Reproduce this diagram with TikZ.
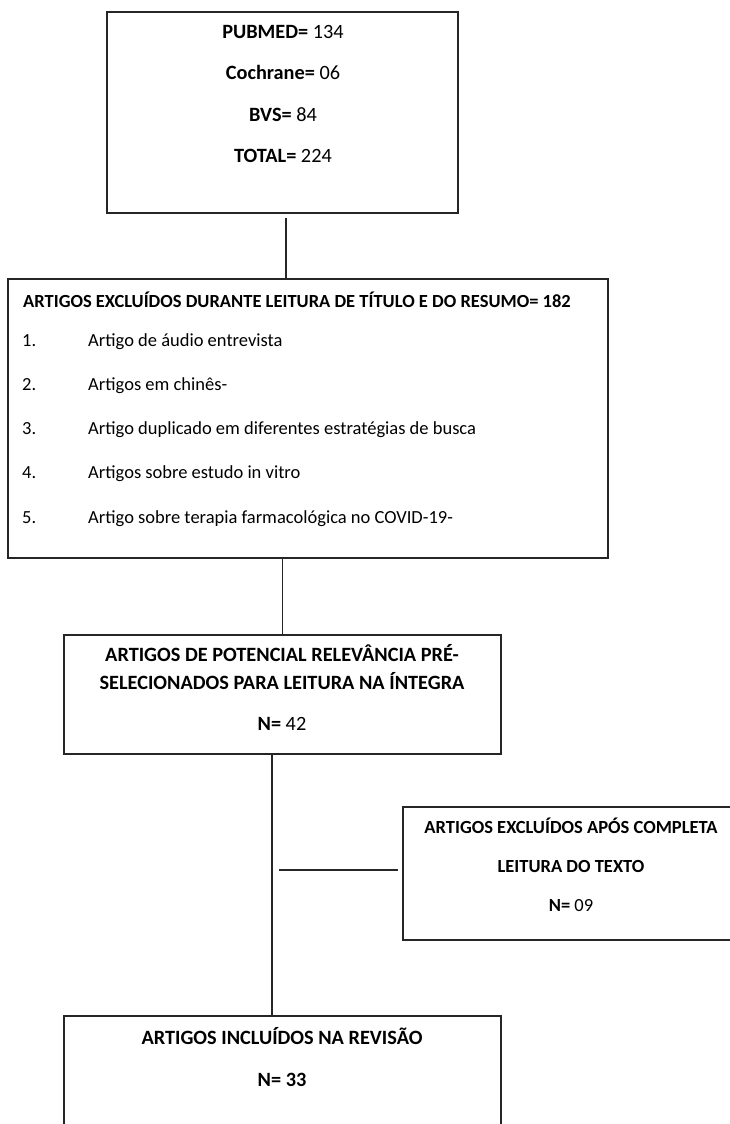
\documentclass[tikz,border=0pt]{standalone}
\usepackage{fontspec}
\setmainfont{Carlito}
\begin{document}
\begin{tikzpicture}[x=1bp,y=-1bp,
  box/.style={draw=black!85,line width=1.3bp,rectangle,inner sep=0pt},
  conn/.style={draw=black!85,line width=1.3bp},
  big/.style={font=\fontsize{20.3bp}{24bp}\selectfont,inner sep=0pt,anchor=base},
  side/.style={font=\fontsize{18.5bp}{22bp}\selectfont,inner sep=0pt,anchor=base},
  mid/.style={font=\fontsize{18.5bp}{22bp}\selectfont,inner sep=0pt,anchor=base west}]
\useasboundingbox (0,0) rectangle (730,1124);
\clip (0,0) rectangle (730,1124);
% boxes
\node[box,minimum width=351bp,minimum height=201bp] (b1) at (282.5,112.5) {};
\node[box,minimum width=600bp,minimum height=279bp] (b2) at (308,418.5) {};
\node[box,minimum width=437bp,minimum height=119bp] (b3) at (282.5,694.5) {};
\node[box,minimum width=340bp,minimum height=133bp] (b5) at (573,873.5) {};
\node[box,minimum width=437bp,minimum height=134bp] (b4) at (282.5,1083) {};
% box 1 text
\node[big] (t1a) at (283,38.5) {\textbf{PUBMED=} 134};
\node[big] (t1b) at (283,79.5) {\textbf{Cochrane=} 06};
\node[big] (t1c) at (283,121.5) {\textbf{BVS=} 84};
\node[big] (t1d) at (283,162.5) {\textbf{TOTAL=} 224};
% box 2 text
\node[mid] (t2) at (23,307) {\textbf{ARTIGOS EXCLUÍDOS DURANTE LEITURA DE TÍTULO E DO RESUMO= 182}};
\node[mid] (n1) at (22,346) {1.};
\node[mid] (i1) at (88,346) {Artigo de áudio entrevista};
\node[mid] (n2) at (22,390) {2.};
\node[mid] (i2) at (88,390) {Artigos em chinês-};
\node[mid] (n3) at (22,434) {3.};
\node[mid] (i3) at (88,434) {Artigo duplicado em diferentes estratégias de busca};
\node[mid] (n4) at (22,478) {4.};
\node[mid] (i4) at (88,478) {Artigos sobre estudo in vitro};
\node[mid] (n5) at (22,523) {5.};
\node[mid] (i5) at (88,523) {Artigo sobre terapia farmacológica no COVID-19-};
% box 3 text
\node[big] (t3a) at (282,661) {\textbf{ARTIGOS DE POTENCIAL RELEVÂNCIA PRÉ-}};
\node[big] (t3b) at (282,689) {\textbf{SELECIONADOS PARA LEITURA NA ÍNTEGRA}};
\node[big] (t3c) at (282,730) {\textbf{N=} 42};
% box 5 text
\node[side] (t5a) at (571,833) {\textbf{ARTIGOS EXCLUÍDOS APÓS COMPLETA}};
\node[side] (t5b) at (571,872) {\textbf{LEITURA DO TEXTO}};
\node[side] (t5c) at (571,911) {\textbf{N=} 09};
% box 4 text
\node[big] (t4a) at (282,1044) {\textbf{ARTIGOS INCLUÍDOS NA REVISÃO}};
\node[big] (t4b) at (282,1086) {\textbf{N= 33}};
% connectors
\coordinate (c1) at (286,218);
\draw[conn] (c1) -- (c1 |- b2.north);
\draw[conn] (b2.south -| b3.north) -- (b3.north);
\coordinate (c3) at (272,753);
\draw[conn] (c3) -- (c3 |- b4.north);
\coordinate (h1) at (279,870);
\coordinate (h2) at (398,870);
\draw[conn] (h1) -- (h2);
\end{tikzpicture}
\end{document}
